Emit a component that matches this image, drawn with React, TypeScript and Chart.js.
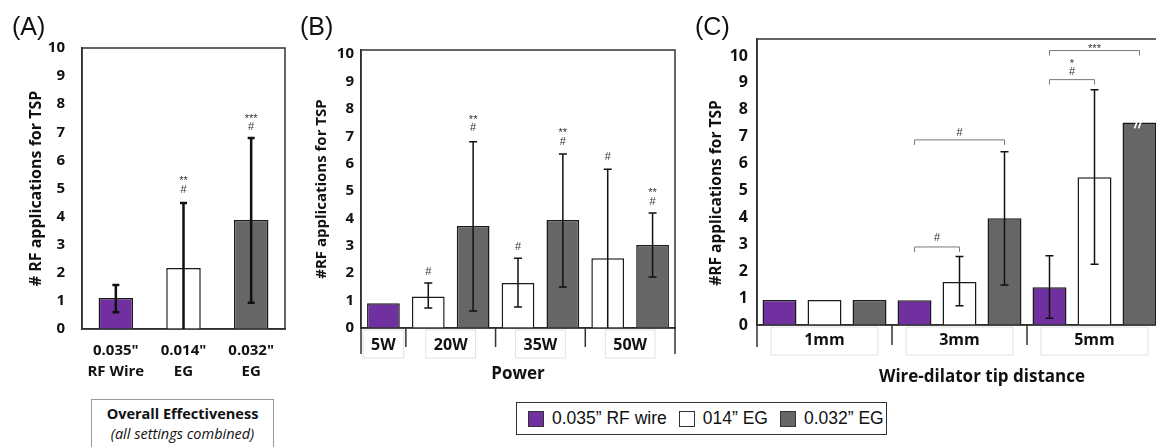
import React, { useEffect, useRef } from "react";
import { Chart, registerables } from "chart.js";

Chart.register(...registerables);

// ---------- data ----------
const yTicks = [0, 1, 2, 3, 4, 5, 6, 7, 8, 9, 10];

// Panel A
const catsA = [['0.035"', "RF Wire"], ['0.014"', "EG"], ['0.032"', "EG"]];
const valuesA = [1.1, 2.17, 3.88];
const errLowA = [0.6, 0, 0.93];
const errHighA = [1.57, 4.48, 6.8];
const marksA = [
  { ds: 0, idx: 1, y: 4.95, t: "#" },
  { ds: 0, idx: 1, y: 5.37, t: "**" },
  { ds: 0, idx: 2, y: 7.2, t: "#" },
  { ds: 0, idx: 2, y: 7.6, t: "***" },
];

// Panel B
const slotsB = ["5W", "20W", "20W", "35W", "35W", "50W", "50W"];
const groupLabelsB = ["5W", "20W", "35W", "50W"];
const groupSizesB = [1, 2, 2, 2];
const purpleB = [0.9, null, null, null, null, null, null];
const whiteB = [null, 1.15, null, 1.64, null, 2.55, null];
const greyB = [null, null, 3.72, null, 3.94, null, 3.03];
const whiteErrLowB = [null, 0.73, null, 0.77, null, 0, null];
const whiteErrHighB = [null, 1.64, null, 2.55, null, 5.8, null];
const greyErrLowB = [null, null, 0.62, null, 1.5, null, 1.86];
const greyErrHighB = [null, null, 6.8, null, 6.35, null, 4.2];
const marksB = [
  { ds: 1, idx: 1, y: 2.04, t: "#" },
  { ds: 2, idx: 2, y: 7.3, t: "#" },
  { ds: 2, idx: 2, y: 7.7, t: "**" },
  { ds: 1, idx: 3, y: 2.96, t: "#" },
  { ds: 2, idx: 4, y: 6.8, t: "#" },
  { ds: 2, idx: 4, y: 7.23, t: "**" },
  { ds: 1, idx: 5, y: 6.24, t: "#" },
  { ds: 2, idx: 6, y: 4.6, t: "#" },
  { ds: 2, idx: 6, y: 5.04, t: "**" },
];

// Panel C
const catsC = ["1mm", "3mm", "5mm"];
const purpleC = [0.93, 0.92, 1.4];
const whiteC = [0.93, 1.6, 5.49];
const greyC = [0.93, 3.97, 7.53];
const purpleErrLowC = [null, null, 0.25];
const purpleErrHighC = [null, null, 2.57];
const whiteErrLowC = [null, 0.72, 2.26];
const whiteErrHighC = [null, 2.55, 8.74];
const greyErrLowC = [null, 1.49, null];
const greyErrHighC = [null, 6.44, null];
const bracketsC = [
  { from: [0, 1], to: [2, 1], y: 6.88, labels: [{ t: "#", y: 7.14 }] },
  { from: [0, 1], to: [1, 1], y: 2.9, labels: [{ t: "#", y: 3.25 }] },
  { from: [0, 2], to: [1, 2], y: 9.12, labels: [{ t: "#", y: 9.42 }, { t: "*", y: 9.81 }] },
  { from: [0, 2], to: [2, 2], y: 10.2, labels: [{ t: "***", y: 10.37 }] },
];

const legendLabels = ["0.035\u201D RF wire", "014\u201D EG", "0.032\u201D EG"];

// ---------- style ----------
const SANS = "'Open Sans', 'Noto Sans', sans-serif";
const ARIAL = "'Liberation Sans', Arial, sans-serif";
const PURPLE = "#7030a0";
const WHITE = "#ffffff";
const GREY = "#666666";
const legendColors = [PURPLE, WHITE, GREY];
const INK = "#111";

type Extras = {
  errors?: { ds: number; low: (number | null)[]; high: (number | null)[] }[];
  errWidth: number;
  capHalf: number;
  marks?: { ds: number; idx: number; y: number; t: string }[];
  markSize: number;
  brackets?: typeof bracketsC;
  groups?: {
    labels: string[];
    sizes: number[];
    font: string;
    labelDy: number;
    edgeLen: number;
    innerLen: number;
    boxW: number | null;
  };
  breakMark?: { ds: number; idx: number };
  titles?: { text: string; x: number; y: number; rot: boolean; font: string }[];
};

function makePlugin(cfg: Extras) {
  return {
    id: "extras",
    afterDatasetsDraw(chart: any) {
      const { ctx, chartArea: ca, scales } = chart;
      const ys = scales.y;
      const xs = scales.x;
      ctx.save();
      // frame
      ctx.strokeStyle = "#333";
      ctx.lineWidth = 1.5;
      ctx.strokeRect(ca.left, ca.top, ca.right - ca.left, ca.bottom - ca.top);

      // break mark
      if (cfg.breakMark) {
        const el = chart.getDatasetMeta(cfg.breakMark.ds).data[cfg.breakMark.idx];
        const x = el.x;
        const t = el.y;
        ctx.strokeStyle = "#fff";
        ctx.lineWidth = 1.6;
        ctx.beginPath();
        ctx.moveTo(x - 5, t + 6);
        ctx.lineTo(x - 2, t - 2);
        ctx.moveTo(x - 1, t + 6);
        ctx.lineTo(x + 2, t - 2);
        ctx.stroke();
      }

      // error bars
      ctx.strokeStyle = "#111";
      ctx.lineWidth = cfg.errWidth;
      (cfg.errors || []).forEach((e) => {
        const meta = chart.getDatasetMeta(e.ds);
        e.low.forEach((lo, i) => {
          const hi = e.high[i];
          if (lo == null || hi == null) return;
          const el = meta.data[i];
          if (!el) return;
          const x = el.x;
          const y1 = ys.getPixelForValue(lo);
          const y2 = ys.getPixelForValue(hi);
          ctx.beginPath();
          ctx.moveTo(x, y1);
          ctx.lineTo(x, y2);
          ctx.moveTo(x - cfg.capHalf, y2);
          ctx.lineTo(x + cfg.capHalf, y2);
          if (lo > 0) {
            ctx.moveTo(x - cfg.capHalf, y1);
            ctx.lineTo(x + cfg.capHalf, y1);
          }
          ctx.stroke();
        });
      });

      // significance marks
      ctx.fillStyle = "#333";
      ctx.textAlign = "center";
      ctx.textBaseline = "middle";
      ctx.font = `${cfg.markSize}px ${ARIAL}`;
      (cfg.marks || []).forEach((m) => {
        const el = chart.getDatasetMeta(m.ds).data[m.idx];
        let y = ys.getPixelForValue(m.y);
        if (m.t.startsWith("*")) y += cfg.markSize * 0.3;
        ctx.fillText(m.t, el.x, y);
      });

      // brackets
      (cfg.brackets || []).forEach((b) => {
        const x1 = chart.getDatasetMeta(b.from[0]).data[b.from[1]].x;
        const x2 = chart.getDatasetMeta(b.to[0]).data[b.to[1]].x;
        const y = ys.getPixelForValue(b.y);
        ctx.strokeStyle = "#777";
        ctx.lineWidth = 1;
        ctx.beginPath();
        ctx.moveTo(x1, y + 5);
        ctx.lineTo(x1, y);
        ctx.lineTo(x2, y);
        ctx.lineTo(x2, y + 5);
        ctx.stroke();
        b.labels.forEach((l) => {
          let ly = ys.getPixelForValue(l.y);
          if (l.t.startsWith("*")) ly += cfg.markSize * 0.3;
          ctx.fillText(l.t, (x1 + x2) / 2, ly);
        });
      });

      // grouped category axis
      if (cfg.groups) {
        const g = cfg.groups;
        const bounds = [xs.getPixelForValue(-0.5)];
        let acc = 0;
        g.sizes.forEach((s) => {
          acc += s;
          bounds.push(xs.getPixelForValue(acc - 0.5));
        });
        ctx.font = g.font;
        g.labels.forEach((lab, i) => {
          const cx = (bounds[i] + bounds[i + 1]) / 2;
          const w = g.boxW ?? ctx.measureText(lab).width + 16;
          ctx.strokeStyle = "#e2e2e2";
          ctx.lineWidth = 1;
          ctx.strokeRect(cx - w / 2, ca.bottom + 2, w, 28);
          ctx.fillStyle = INK;
          ctx.fillText(lab, cx, ca.bottom + g.labelDy);
        });
        ctx.strokeStyle = "#333";
        ctx.lineWidth = 1.5;
        bounds.forEach((bx, i) => {
          const len = i === 0 || i === bounds.length - 1 ? g.edgeLen : g.innerLen;
          ctx.beginPath();
          ctx.moveTo(bx, ca.bottom);
          ctx.lineTo(bx, ca.bottom + len);
          ctx.stroke();
        });
      }

      // custom titles
      (cfg.titles || []).forEach((t) => {
        ctx.save();
        ctx.font = t.font;
        ctx.fillStyle = INK;
        ctx.translate(t.x, t.y);
        if (t.rot) ctx.rotate(-Math.PI / 2);
        ctx.fillText(t.text, 0, 0);
        ctx.restore();
      });
      ctx.restore();
    },
  };
}

function yScale(max: number, size: number, pad: number, width: number, title: any) {
  return {
    min: 0,
    max,
    grid: { display: false, drawTicks: false },
    border: { display: true, color: "#222", width: 1.5 },
    ticks: { color: INK, font: { family: SANS, size, weight: "bold" }, padding: pad },
    afterBuildTicks: (s: any) => {
      s.ticks = yTicks.map((v) => ({ value: v }));
    },
    afterFit: (s: any) => {
      s.width = width;
    },
    title,
  };
}

function barDs(data: any, color: any, bp: number, grouped = true) {
  return {
    data,
    backgroundColor: color,
    borderColor: "#1a1a1a",
    borderWidth: 1.5,
    barPercentage: bp,
    categoryPercentage: 1,
    grouped,
  };
}

const baseOpts = {
  responsive: false,
  animation: false,
  plugins: { legend: { display: false }, tooltip: { enabled: false } },
};

function configA() {
  return {
    type: "bar",
    data: {
      labels: catsA,
      datasets: [barDs(valuesA, [PURPLE, WHITE, GREY], 0.51)],
    },
    options: {
      ...baseOpts,
      layout: { padding: { left: 0, top: 48, right: 15, bottom: 16 } },
      scales: {
        x: {
          grid: { display: false, drawTicks: false },
          border: { display: true, color: "#222", width: 1.5 },
          ticks: {
            color: INK,
            font: { family: SANS, size: 15, weight: "bold", lineHeight: 1.4 },
            padding: 11,
            maxRotation: 0,
            autoSkip: false,
          },
          afterFit: (s: any) => {
            s.height = 50;
          },
        },
        y: yScale(10, 15, 17, 82, {
          display: true,
          text: "# RF applications for TSP",
          color: INK,
          font: { family: SANS, size: 16, weight: "bold" },
          padding: { top: 27, bottom: 0 },
        }),
      },
    },
    plugins: [
      makePlugin({
        errors: [{ ds: 0, low: errLowA, high: errHighA }],
        errWidth: 2.5,
        capHalf: 3.5,
        marks: marksA,
        markSize: 11,
      }),
    ],
  };
}

function configB() {
  return {
    type: "bar",
    data: {
      labels: slotsB,
      datasets: [
        barDs(purpleB, PURPLE, 0.73, false),
        barDs(whiteB, WHITE, 0.73, false),
        barDs(greyB, GREY, 0.73, false),
      ],
    },
    options: {
      ...baseOpts,
      layout: { padding: { left: 0, top: 50, right: 15, bottom: 7 } },
      scales: {
        x: {
          grid: { display: false, drawTicks: false },
          border: { display: true, color: "#222", width: 1.5 },
          ticks: { display: false },
          afterFit: (s: any) => {
            s.height = 60;
          },
          title: {
            display: true,
            text: "Power",
            color: INK,
            font: { family: SANS, size: 17, weight: "bold" },
            padding: { top: 0, bottom: 4 },
          },
        },
        y: yScale(10.15, 15, 7, 71, {
          display: true,
          text: "#RF applications for TSP",
          color: INK,
          font: { family: SANS, size: 15, weight: "bold" },
          padding: { top: 23, bottom: 0 },
        }),
      },
    },
    plugins: [
      makePlugin({
        errors: [
          { ds: 1, low: whiteErrLowB, high: whiteErrHighB },
          { ds: 2, low: greyErrLowB, high: greyErrHighB },
        ],
        errWidth: 1.5,
        capHalf: 4,
        marks: marksB,
        markSize: 11,
        groups: {
          labels: groupLabelsB,
          sizes: groupSizesB,
          font: `bold 16px ${SANS}`,
          labelDy: 17,
          edgeLen: 26,
          innerLen: 19,
          boxW: null,
        },
      }),
    ],
  };
}

function configC() {
  return {
    type: "bar",
    data: {
      labels: catsC,
      datasets: [
        barDs(purpleC, PURPLE, 0.755),
        barDs(whiteC, WHITE, 0.755),
        barDs(greyC, GREY, 0.755),
      ],
    },
    options: {
      ...baseOpts,
      layout: { padding: { left: 0, top: 39, right: 8, bottom: 10 } },
      scales: {
        x: {
          grid: { display: false, drawTicks: false },
          border: { display: true, color: "#222", width: 1.5 },
          ticks: { display: false },
          afterFit: (s: any) => {
            s.height = 60;
          },
        },
        y: yScale(10.63, 16, 9, 77, { display: false }),
      },
    },
    plugins: [
      makePlugin({
        errors: [
          { ds: 0, low: purpleErrLowC, high: purpleErrHighC },
          { ds: 1, low: whiteErrLowC, high: whiteErrHighC },
          { ds: 2, low: greyErrLowC, high: greyErrHighC },
        ],
        errWidth: 1.5,
        capHalf: 4,
        markSize: 11,
        brackets: bracketsC,
        breakMark: { ds: 2, idx: 2 },
        groups: {
          labels: catsC,
          sizes: [1, 1, 1],
          font: `bold 16px ${SANS}`,
          labelDy: 15,
          edgeLen: 22,
          innerLen: 20,
          boxW: 107,
        },
        titles: [
          { text: "#RF applications for TSP", x: 37, y: 193, rot: true, font: `bold 15.5px ${SANS}` },
          { text: "Wire-dilator tip distance", x: 302, y: 377, rot: false, font: `bold 17px ${SANS}` },
        ],
      }),
    ],
  };
}

function ChartCanvas({ build, left, w, h }: { build: () => any; left: number; w: number; h: number }) {
  const ref = useRef<HTMLCanvasElement>(null);
  useEffect(() => {
    const chart = new Chart(ref.current as HTMLCanvasElement, build());
    return () => chart.destroy();
  }, []);
  return (
    <canvas
      ref={ref}
      width={w}
      height={h}
      style={{ position: "absolute", left, top: 0, width: w, height: h, display: "block" }}
    />
  );
}

const panelLabel = (text: string, left: number) => (
  <div
    style={{
      position: "absolute",
      left,
      top: 12,
      fontFamily: ARIAL,
      fontSize: 25,
      lineHeight: "28px",
      color: "#111",
    }}
  >
    {text}
  </div>
);

export default function App() {
  return (
    <div
      style={{
        position: "absolute",
        left: 0,
        top: 0,
        width: 1156,
        height: 447,
        overflow: "hidden",
        background: "#fff",
      }}
    >
      <ChartCanvas build={configA} left={0} w={300} h={395} />
      <ChartCanvas build={configB} left={290} w={400} h={395} />
      <ChartCanvas build={configC} left={680} w={490} h={395} />
      {panelLabel("(A)", 12)}
      {panelLabel("(B)", 300)}
      {panelLabel("(C)", 695)}
      <div
        style={{
          position: "absolute",
          left: 91,
          top: 399,
          width: 183,
          height: 70,
          border: "1px solid #999",
          boxSizing: "border-box",
          textAlign: "center",
          fontFamily: SANS,
          color: "#111",
        }}
      >
        <div style={{ fontWeight: "bold", fontSize: 14.5, marginTop: 4, lineHeight: "19px" }}>
          Overall Effectiveness
        </div>
        <div style={{ fontStyle: "italic", fontSize: 14.5, lineHeight: "21px" }}>
          (all settings combined)
        </div>
      </div>
      <div
        style={{
          position: "absolute",
          left: 516,
          top: 402,
          width: 371,
          height: 33,
          border: "1.5px solid #333",
          boxSizing: "border-box",
          display: "flex",
          alignItems: "center",
          paddingLeft: 11,
          fontFamily: ARIAL,
          fontSize: 17.5,
          color: "#111",
          whiteSpace: "nowrap",
        }}
      >
        {legendLabels.map((lab, i) => (
          <div key={lab} style={{ display: "flex", alignItems: "center", marginRight: 12 }}>
            <span
              style={{
                display: "inline-block",
                width: 14,
                height: 14,
                background: legendColors[i],
                border: "1px solid #333",
                marginRight: 8,
              }}
            />
            <span>{lab}</span>
          </div>
        ))}
      </div>
    </div>
  );
}
